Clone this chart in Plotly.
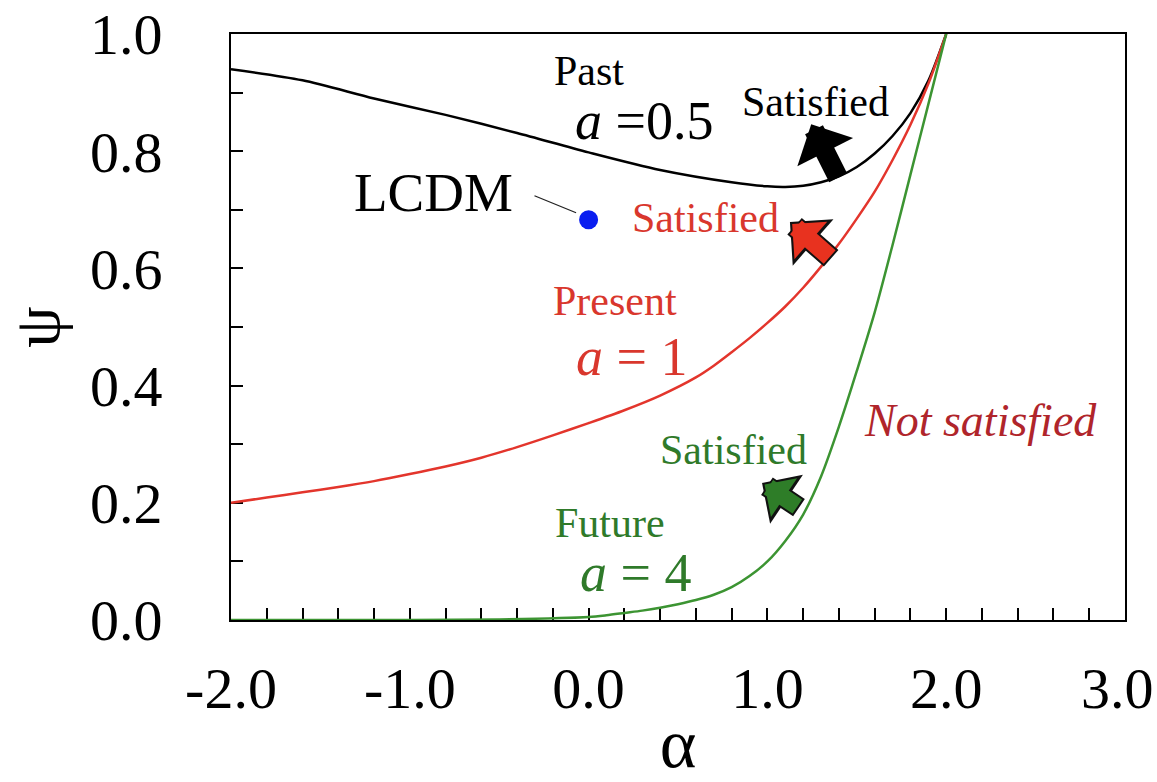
import plotly.graph_objects as go

# ---- data ----
alpha_past = [-2.0, -1.6, -1.2, -0.8, -0.4, 0.0, 0.4, 0.8, 1.0, 1.1, 1.2, 1.3, 1.4, 1.5, 1.6, 1.7, 1.8, 1.9, 2.0]
psi_past = [0.940, 0.921, 0.890, 0.862, 0.831, 0.798, 0.768, 0.747, 0.740, 0.739, 0.741, 0.747, 0.757, 0.773, 0.796, 0.826, 0.865, 0.920, 1.0]

alpha_present = [-2.0, -1.8, -1.6, -1.4, -1.2, -1.0, -0.8, -0.6, -0.4, -0.2, 0.0, 0.2, 0.4, 0.6, 0.7, 0.8, 0.9,
                 1.0, 1.1, 1.2, 1.3, 1.4, 1.5, 1.6, 1.7, 1.8, 1.9, 2.0]
psi_present = [0.200, 0.209, 0.218, 0.227, 0.237, 0.249, 0.262, 0.277, 0.295, 0.315, 0.336, 0.358, 0.383, 0.414, 0.434, 0.457, 0.481,
               0.507, 0.535, 0.567, 0.603, 0.642, 0.685, 0.731, 0.785, 0.845, 0.915, 1.0]

alpha_future = [-2.0, -1.5, -1.0, -0.5, 0.0, 0.1, 0.2, 0.3, 0.4, 0.5, 0.6, 0.7, 0.8, 0.9, 1.0,
                1.1, 1.2, 1.3, 1.4, 1.5, 1.6, 1.7, 1.8, 1.9, 2.0]
psi_future = [0.0, 0.0, 0.0, 0.001, 0.005, 0.008, 0.012, 0.016, 0.021, 0.027, 0.034, 0.043, 0.056, 0.075, 0.100,
              0.135, 0.180, 0.245, 0.330, 0.425, 0.525, 0.640, 0.760, 0.880, 1.0]

lcdm_alpha = [0.0]
lcdm_psi = [0.683]

x_tickvals = [-2.0, -1.0, 0.0, 1.0, 2.0, 3.0]
x_ticktext = ["-2.0", "-1.0", "0.0", "1.0", "2.0", "3.0"]
y_tickvals = [0.0, 0.2, 0.4, 0.6, 0.8, 1.0]
y_ticktext = ["0.0", "0.2", "0.4", "0.6", "0.8", "1.0"]

FONT = "Liberation Serif"
BLACK = "#000000"
RED = "#e3352c"
RED_TXT = "#d9372d"
DARKRED = "#b0252b"
GREEN = "#3c9432"
GREEN_TXT = "#2f7a2a"
GREEN_ARROW = "#2e7d28"
TICKSIZE = 58

fig = go.Figure()
for xs, ys, col in [(alpha_past, psi_past, BLACK), (alpha_present, psi_present, RED), (alpha_future, psi_future, GREEN)]:
    fig.add_trace(go.Scatter(x=xs, y=ys, mode="lines",
                             line=dict(color=col, width=2.5, shape="spline", smoothing=0.8), showlegend=False))
fig.add_trace(go.Scatter(x=lcdm_alpha, y=lcdm_psi, mode="markers", marker=dict(color="#0a1ef0", size=19),
                         showlegend=False, cliponaxis=False))

ann = []

def text(x, y, s, size, color, italic=False):
    ann.append(dict(x=x, y=y, xref="x", yref="y", text=("<i>%s</i>" % s) if italic else s,
                    showarrow=False, font=dict(family=FONT, size=size, color=color),
                    xanchor="center", yanchor="middle"))

def fat_arrow(tail, tip, color, width, size, outline=True):
    if outline:
        ann.append(dict(x=tip[0], y=tip[1], ax=tail[0], ay=tail[1], xref="x", yref="y", axref="x", ayref="y",
                        text="", showarrow=True, arrowhead=1, arrowwidth=width + 4,
                        arrowsize=(width * size + 2.0) / (width + 4), arrowcolor="#111111"))
        ann.append(dict(x=tip[0], y=tip[1], ax=tail[0], ay=tail[1], xref="x", yref="y", axref="x", ayref="y",
                        text="", showarrow=True, arrowhead=1, arrowwidth=width, arrowsize=size,
                        arrowcolor=color, standoff=3, startstandoff=2))
    else:
        ann.append(dict(x=tip[0], y=tip[1], ax=tail[0], ay=tail[1], xref="x", yref="y", axref="x", ayref="y",
                        text="", showarrow=True, arrowhead=1, arrowwidth=width, arrowsize=size,
                        arrowcolor=color))

text(0.002, 0.937, "Past", 42, BLACK)
text(0.31, 0.851, "<i>a</i> =0.5", 54, BLACK)
text(1.27, 0.884, "Satisfied", 42, BLACK)
text(0.651, 0.686, "Satisfied", 42, RED_TXT)
text(-0.87, 0.729, "LCDM", 55, BLACK)
text(0.148, 0.545, "Present", 42, RED_TXT)
text(0.24, 0.449, "<i>a</i> = 1", 54, RED_TXT)
text(2.19, 0.341, "Not satisfied", 46, DARKRED, italic=True)
text(0.813, 0.290, "Satisfied", 42, GREEN_TXT)
text(0.120, 0.166, "Future", 42, GREEN_TXT)
text(0.26, 0.080, "<i>a</i> = 4", 54, GREEN_TXT)

# last x tick label placed as text so it is not hidden at the page edge
ann.append(dict(x=x_tickvals[-1], y=0, xref="x", yref="paper", text=x_ticktext[-1], showarrow=False,
                font=dict(family=FONT, size=TICKSIZE, color="black"), xanchor="center", yanchor="middle",
                xshift=-8, yshift=-68))

# leader line for LCDM
ann.append(dict(x=-0.070, y=0.695, ax=-0.311, ay=0.725, xref="x", yref="y", axref="x", ayref="y",
                text="", showarrow=True, arrowhead=0, arrowwidth=1.3, arrowcolor="#222222"))

fat_arrow((1.40, 0.752), (1.245, 0.846), BLACK, 20, 0.52, outline=False)
fat_arrow((1.365, 0.615), (1.126, 0.679), "#e8321f", 18, 0.46)
fat_arrow((1.185, 0.190), (0.970, 0.234), GREEN_ARROW, 17, 0.46)

fig.update_layout(
    width=1157, height=782, autosize=False,
    margin=dict(l=231, r=32, t=34, b=162, autoexpand=False),
    paper_bgcolor="white", plot_bgcolor="white",
    font=dict(family=FONT, color="black"),
    annotations=ann,
    xaxis=dict(range=[-2, 3], tickvals=x_tickvals[:-1], ticktext=x_ticktext[:-1], automargin=False,
               ticks="inside", ticklen=12, tickwidth=1.5, tickcolor="black",
               minor=dict(dtick=0.2, tick0=0, ticks="inside", ticklen=12, tickwidth=1.5, tickcolor="black", showgrid=False),
               showline=True, linecolor="black", linewidth=2, mirror=True, showgrid=False, zeroline=False,
               tickfont=dict(family=FONT, size=TICKSIZE, color="black"), ticklabelstandoff=16,
               layer="below traces",
               title=dict(text="α", font=dict(family=FONT, size=70, color="black"), standoff=0)),
    yaxis=dict(range=[0, 1], tickvals=y_tickvals, ticktext=y_ticktext, automargin=False,
               ticks="inside", ticklen=12, tickwidth=1.5, tickcolor="black",
               minor=dict(dtick=0.1, tick0=0, ticks="inside", ticklen=12, tickwidth=1.5, tickcolor="black", showgrid=False),
               showline=True, linecolor="black", linewidth=2, mirror=True, showgrid=False, zeroline=False,
               tickfont=dict(family=FONT, size=TICKSIZE, color="black"), ticklabelstandoff=55,
               layer="below traces",
               title=dict(text="ψ", font=dict(family=FONT, size=66, color="black"), standoff=10)),
)

fig.write_html("out.html", config={"displayModeBar": False},
               post_script="document.body.style.margin='0';document.body.style.overflow='hidden';")
